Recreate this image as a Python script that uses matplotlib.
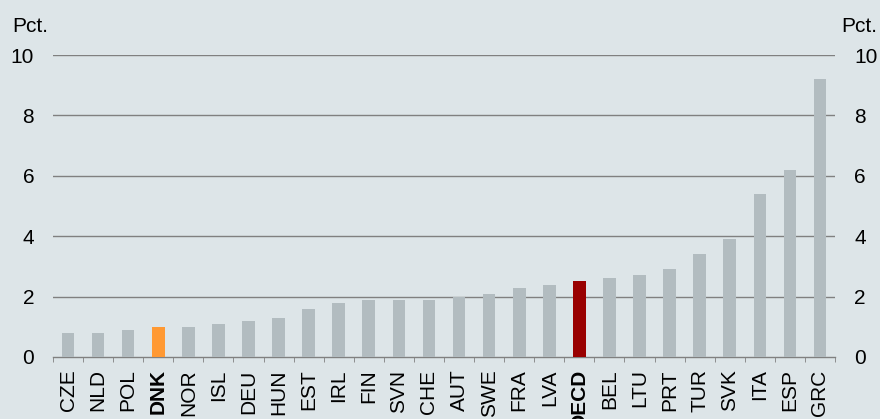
import numpy as np
import matplotlib.pyplot as plt
from matplotlib.ticker import FixedLocator

plt.rcParams['font.family'] = ['Liberation Sans', 'DejaVu Sans']

countries = ["CZE", "NLD", "POL", "DNK", "NOR", "ISL", "DEU", "HUN", "EST",
             "IRL", "FIN", "SVN", "CHE", "AUT", "SWE", "FRA", "LVA", "OECD",
             "BEL", "LTU", "PRT", "TUR", "SVK", "ITA", "ESP", "GRC"]
values = [0.8, 0.8, 0.9, 1.0, 1.0, 1.1, 1.2, 1.3, 1.6,
          1.8, 1.9, 1.9, 1.9, 2.0, 2.1, 2.3, 2.4, 2.5,
          2.6, 2.7, 2.9, 3.4, 3.9, 5.4, 6.2, 9.2]
highlight = {"DNK": "#FF9933", "OECD": "#990000"}

bg = "#DDE5E8"
grey_bar = "#B2BCC0"
line_col = "#808080"
fs = 15

fig = plt.figure(figsize=(8.8, 4.19), dpi=100, facecolor=bg)
ax = fig.add_axes([0.0602, 0.148, 0.8887, 0.7207], facecolor=bg)

x = np.arange(len(countries))
colors = [highlight.get(c, grey_bar) for c in countries]
ax.bar(x, values, width=0.42, color=colors, zorder=3)

ax.set_xlim(-0.5, len(countries) - 0.5)
ax.set_ylim(0, 10)
ax.set_yticks([0, 2, 4, 6, 8, 10])
for y in [2, 4, 6, 8, 10]:
    ax.axhline(y, color=line_col, lw=1, zorder=1)

for s in ["left", "right", "top"]:
    ax.spines[s].set_visible(False)
ax.spines["bottom"].set_color(line_col)
ax.spines["bottom"].set_linewidth(1)

# category labels in the middle, tick marks on the boundaries
ax.set_xticks(x)
ax.set_xticklabels(countries, rotation=90, fontsize=fs)
ax.tick_params(axis="x", which="major", length=0, pad=9)
ax.xaxis.set_minor_locator(FixedLocator(np.arange(-0.5, len(countries), 1)))
ax.tick_params(axis="x", which="minor", length=3.6, color=line_col, direction="out")
for lbl in ax.get_xticklabels():
    if lbl.get_text() in highlight:
        lbl.set_fontweight("bold")

ax.tick_params(axis="y", length=0, labelsize=fs, pad=13.5)
ax2 = ax.twinx()
ax2.set_ylim(ax.get_ylim())
ax2.set_yticks([0, 2, 4, 6, 8, 10])
ax2.tick_params(axis="y", length=0, labelsize=fs, pad=14)
for s in ax2.spines.values():
    s.set_visible(False)

fig.text(12 / 880, 1 - 32 / 419, "Pct.", fontsize=fs, ha="left", va="baseline")
fig.text(877 / 880, 1 - 32 / 419, "Pct.", fontsize=fs, ha="right", va="baseline")

fig.savefig("out.png", dpi=100, facecolor=bg)
